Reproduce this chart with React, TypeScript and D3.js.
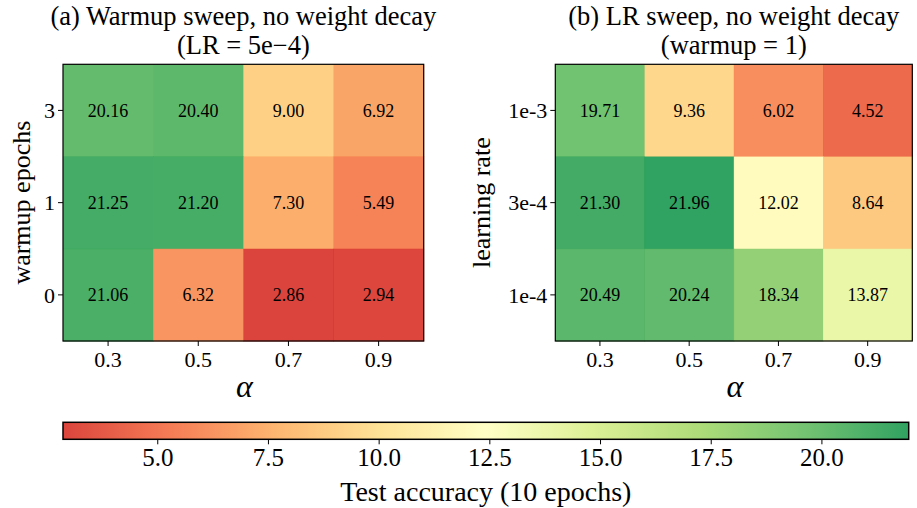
import React from "react";
import * as d3 from "d3";

const alphas = ["0.3", "0.5", "0.7", "0.9"];
const warmupRows = ["3", "1", "0"];
const lrRows = ["1e-3", "3e-4", "1e-4"];
const warmupValues = [
  [20.16, 20.4, 9.0, 6.92],
  [21.25, 21.2, 7.3, 5.49],
  [21.06, 6.32, 2.86, 2.94],
];
const lrValues = [
  [19.71, 9.36, 6.02, 4.52],
  [21.3, 21.96, 12.02, 8.64],
  [20.49, 20.24, 18.34, 13.87],
];
const colorbarTicks = [5.0, 7.5, 10.0, 12.5, 15.0, 17.5, 20.0];
const vmin = 2.86;
const vmax = 21.96;

const W = 917;
const H = 508;
const FONT = "'Liberation Serif', 'Times New Roman', serif";

const cmapColors = d3.schemeRdYlGn[11].slice(1, 10);
const color = d3
  .scaleLinear<string>()
  .domain(cmapColors.map((_, i) => vmin + ((vmax - vmin) * i) / (cmapColors.length - 1)))
  .range(cmapColors)
  .interpolate(d3.interpolateRgb);

const OPACITY = 0.9;

type HMProps = {
  x0: number;
  x1: number;
  y0: number;
  y1: number;
  rows: string[];
  values: number[][];
  title1: string;
  title2: string;
  ylabel: string;
  ylabelX: number;
};

function Heatmap({ x0, x1, y0, y1, rows, values, title1, title2, ylabel, ylabelX }: HMProps) {
  const xs = d3.scaleBand<string>().domain(alphas).range([x0, x1]).padding(0);
  const ys = d3.scaleBand<string>().domain(rows).range([y0, y1]).padding(0);
  const cx = (x0 + x1) / 2;
  const cy = (y0 + y1) / 2;
  return (
    <g>
      <text x={cx} y={25} textAnchor="middle" fontSize={26.5} fontFamily={FONT}>
        {title1}
      </text>
      <text x={cx} y={54} textAnchor="middle" fontSize={26.5} fontFamily={FONT}>
        {title2}
      </text>
      {rows.map((r, i) =>
        alphas.map((a, j) => (
          <g key={r + a}>
            <rect
              x={xs(a)}
              y={ys(r)}
              width={xs.bandwidth() + 0.5}
              height={ys.bandwidth() + 0.5}
              fill={color(values[i][j])}
              fillOpacity={OPACITY}
            />
            <text
              x={(xs(a) as number) + xs.bandwidth() / 2}
              y={(ys(r) as number) + ys.bandwidth() / 2}
              dy="0.35em"
              textAnchor="middle"
              fontSize={18}
              fontFamily={FONT}
            >
              {values[i][j].toFixed(2)}
            </text>
          </g>
        ))
      )}
      <rect x={x0} y={y0} width={x1 - x0} height={y1 - y0} fill="none" stroke="#000" strokeWidth={1.2} />
      {rows.map((r) => {
        const y = (ys(r) as number) + ys.bandwidth() / 2;
        return (
          <g key={"yt" + r}>
            <line x1={x0 - 5} x2={x0} y1={y} y2={y} stroke="#000" strokeWidth={1} />
            <text x={x0 - 8} y={y} dy="0.35em" textAnchor="end" fontSize={22} fontFamily={FONT}>
              {r}
            </text>
          </g>
        );
      })}
      {alphas.map((a) => {
        const x = (xs(a) as number) + xs.bandwidth() / 2;
        return (
          <g key={"xt" + a}>
            <line x1={x} x2={x} y1={y1} y2={y1 + 5} stroke="#000" strokeWidth={1} />
            <text x={x} y={367} textAnchor="middle" fontSize={22} fontFamily={FONT}>
              {a}
            </text>
          </g>
        );
      })}
      <text x={cx + 1} y={397} textAnchor="middle" fontSize={32} fontStyle="italic" fontFamily={FONT}>
        α
      </text>
      <text
        transform={`translate(${ylabelX},${cy}) rotate(-90)`}
        textAnchor="middle"
        fontSize={26}
        fontFamily={FONT}
      >
        {ylabel}
      </text>
    </g>
  );
}

function Colorbar() {
  const cx0 = 63;
  const cx1 = 908.7;
  const cy0 = 422.3;
  const cy1 = 439.3;
  const s = d3.scaleLinear().domain([vmin, vmax]).range([cx0, cx1]);
  const stops = color.domain();
  return (
    <g>
      <defs>
        <linearGradient id="cbgrad" x1="0" x2="1" y1="0" y2="0">
          {stops.map((v, i) => (
            <stop key={i} offset={(v - vmin) / (vmax - vmin)} stopColor={color(v)} />
          ))}
        </linearGradient>
      </defs>
      <rect x={cx0} y={cy0} width={cx1 - cx0} height={cy1 - cy0} fill="url(#cbgrad)" fillOpacity={OPACITY} />
      <rect x={cx0} y={cy0} width={cx1 - cx0} height={cy1 - cy0} fill="none" stroke="#000" strokeWidth={1.5} />
      {colorbarTicks.map((t) => (
        <g key={t}>
          <line x1={s(t)} x2={s(t)} y1={cy1} y2={cy1 + 5} stroke="#000" strokeWidth={1} />
          <text x={s(t)} y={466} textAnchor="middle" fontSize={25} fontFamily={FONT}>
            {t.toFixed(1)}
          </text>
        </g>
      ))}
      <text x={(cx0 + cx1) / 2} y={501} textAnchor="middle" fontSize={28} fontFamily={FONT}>
        Test accuracy (10 epochs)
      </text>
    </g>
  );
}

export default function App() {
  return (
    <svg
      width={W}
      height={H}
      viewBox={`0 0 ${W} ${H}`}
      style={{ position: "absolute", left: 0, top: 0, background: "#fff" }}
    >
      <rect x={0} y={0} width={W} height={H} fill="#fff" />
      <Heatmap
        x0={63}
        x1={423.7}
        y0={64.3}
        y1={341}
        rows={warmupRows}
        values={warmupValues}
        title1="(a) Warmup sweep, no weight decay"
        title2="(LR = 5e−4)"
        ylabel="warmup epochs"
        ylabelX={30}
      />
      <Heatmap
        x0={555.3}
        x1={912.3}
        y0={64.3}
        y1={341}
        rows={lrRows}
        values={lrValues}
        title1="(b) LR sweep, no weight decay"
        title2="(warmup = 1)"
        ylabel="learning rate"
        ylabelX={490}
      />
      <Colorbar />
    </svg>
  );
}
